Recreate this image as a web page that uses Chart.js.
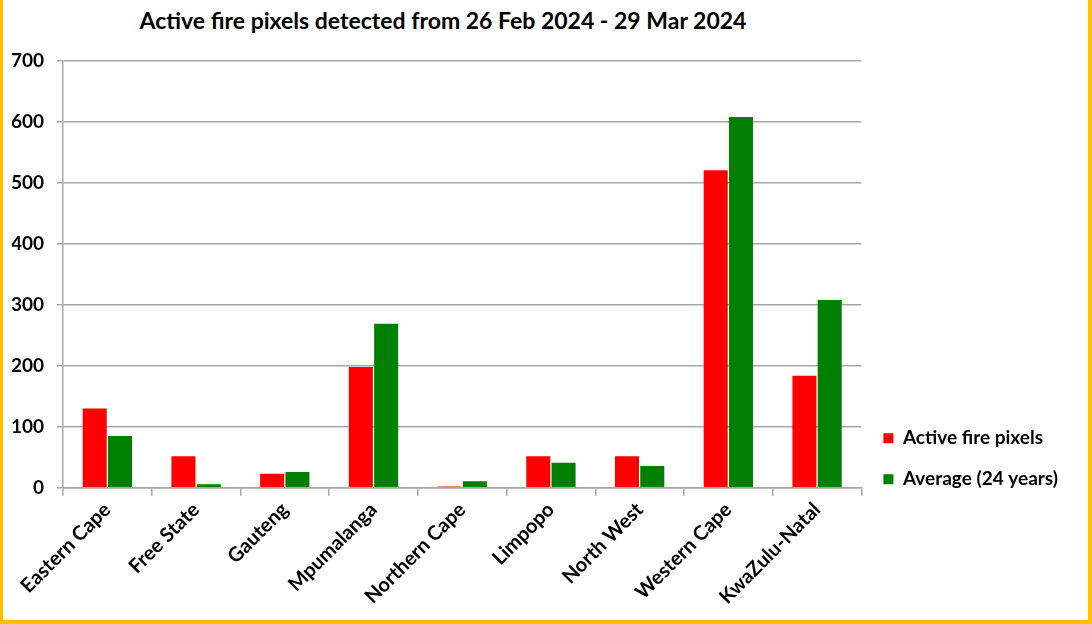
<!DOCTYPE html>
<html>
<head>
<meta charset="utf-8">
<script src="https://cdn.jsdelivr.net/npm/chart.js@4.4.1/dist/chart.umd.min.js"></script>
<style>
  html, body { margin: 0; padding: 0; background: #fff; }
  #frame {
    position: relative;
    width: 1092px;
    height: 624px;
    box-sizing: border-box;
    border-left: 3px solid #ffc000;
    border-right: 4px solid #ffc000;
    border-bottom: 4px solid #ffc000;
    background: #fff;
  }
  #title {
    position: absolute;
    top: 6px;
    left: 0;
    width: 880px;
    text-align: center;
    font: bold 23px Lato, "Open Sans", sans-serif;
    color: #000;
  }
  #chartBox { position: absolute; left: 0; top: 0; width: 1085px; height: 620px; }
</style>
</head>
<body>
<div id="frame">
  <div id="title">Active fire pixels detected from 26 Feb 2024 - 29 Mar 2024</div>
  <div id="chartBox"><canvas id="fireChart"></canvas></div>
</div>
<script>
const provinces = ["Eastern Cape", "Free State", "Gauteng", "Mpumalanga", "Northern Cape",
  "Limpopo", "North West", "Western Cape", "KwaZulu-Natal"];
const activeFirePixels = [130, 52, 23, 198, 2, 52, 52, 521, 184];
const averageFirePixels = [85, 6, 26, 269, 11, 41, 36, 608, 308];
const yTicks = [0, 100, 200, 300, 400, 500, 600, 700];

const gridColor = "#a6a6a6";
const fontFamily = "Lato, 'Open Sans', sans-serif";

// legend sits low, next to the bottom of the plot
const legendShift = {
  id: "legendShift",
  afterLayout(chart) {
    const legend = chart.legend;
    if (!legend) return;
    legend.top += 23;
    legend.bottom += 23;
  }
};

function initFireChart() {
  const context = document.getElementById("fireChart").getContext("2d");

  return new Chart(context, {
    type: "bar",
    data: {
      labels: provinces,
      datasets: [
        {
          label: "Active fire pixels",
          data: activeFirePixels,
          backgroundColor: "#ff0000",
          categoryPercentage: 0.57,
          barPercentage: 0.95
        },
        {
          label: "Average (24 years)",
          data: averageFirePixels,
          backgroundColor: "#008000",
          categoryPercentage: 0.57,
          barPercentage: 0.95
        }
      ]
    },
    options: {
      responsive: true,
      maintainAspectRatio: false,
      animation: false,
      layout: { padding: { top: 61, left: 9, right: 20, bottom: 9 } },
      plugins: {
        title: { display: false },
        tooltip: { enabled: false },
        legend: {
          position: "right",
          align: "end",
          fullSize: false,
          labels: {
            color: "#000",
            boxWidth: 10,
            boxHeight: 10,
            padding: 22,
            font: { family: fontFamily, size: 19, weight: "bold" }
          }
        }
      },
      scales: {
        x: {
          grid: {
            offset: true,
            drawOnChartArea: false,
            drawTicks: true,
            tickLength: 8,
            color: gridColor,
            lineWidth: 1.5
          },
          border: { color: gridColor, width: 1.5 },
          ticks: {
            color: "#000",
            font: { family: fontFamily, size: 20, weight: "bold" },
            maxRotation: 45,
            minRotation: 45,
            padding: 2
          },
          afterFit: scale => {
            scale.paddingLeft = 0;
          }
        },
        y: {
          min: yTicks[0],
          max: yTicks[yTicks.length - 1],
          afterBuildTicks: scale => {
            scale.ticks = yTicks.map(value => ({ value }));
          },
          afterFit: scale => {
            scale.width = 51;
          },
          grid: { color: gridColor, lineWidth: 1.5, tickLength: 6 },
          border: { color: gridColor, width: 1.5 },
          ticks: { color: "#000", font: { family: fontFamily, size: 19, weight: "bold" }, padding: 13 }
        }
      }
    },
    plugins: [legendShift]
  });
}

initFireChart();
</script>
</body>
</html>
